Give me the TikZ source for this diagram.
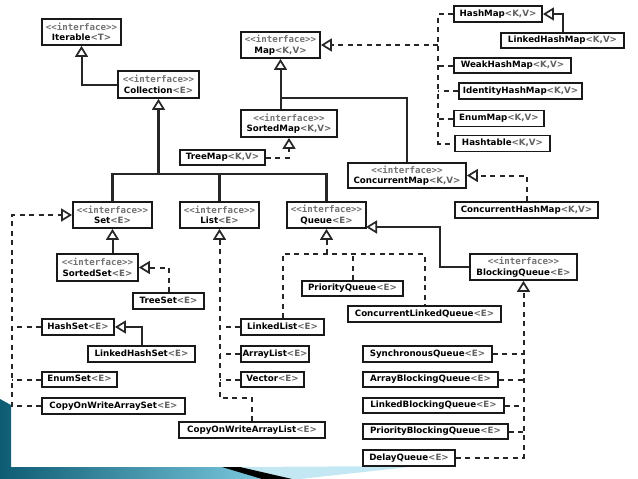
\documentclass[tikz,border=0pt]{standalone}
\usepackage{fontspec}
\setmainfont{DejaVu Sans}
\newfontfamily\monof{DejaVu Sans Mono}
\usetikzlibrary{arrows.meta}
\definecolor{tealdark}{HTML}{0D5C73}
\definecolor{teallight}{HTML}{86D4EA}
\definecolor{paleblue}{HTML}{C4E8F3}
\newcommand{\ifc}{{\monof\fontsize{9.1}{10.5}\selectfont\color{black!55}<\kern0pt<interface>\kern0pt>}}
\newcommand{\gen}[1]{{\color{black!62}#1}}
\newcommand{\nm}[1]{#1}
\begin{document}
\begin{tikzpicture}[x=1pt,y=-1pt,
  font=\fontsize{8.7}{10.5}\selectfont\bfseries,
  box/.style={draw=black!90, line width=1.8pt, fill=white, inner sep=0pt, align=center},
  sbox/.style={box, text height=6.5pt, text depth=1.8pt},
  ln/.style={line width=2pt, draw=black!85},
  dl/.style={ln, dash pattern=on 5pt off 4.5pt},
  tri/.style={-{Triangle[length=11pt,width=13pt,fill=white,line width=1.7pt]}}
]
\useasboundingbox (0,0) rectangle (638,479);
\fill[white] (0,0) rectangle (638,479);
% slide decoration
\shade[left color=tealdark, right color=teallight] (0,399) -- (11,405) -- (11,467) -- (236,467) -- (292,479) -- (0,479) -- cycle;
\fill[paleblue] (238,467) -- (418,466) -- (300,479) -- (292,479) -- cycle;
\fill[black] (222,467) -- (240,467) -- (292,479) -- (262,479) -- cycle;

% interfaces
\node[box, minimum width=79pt, minimum height=26pt] (Iterable) at (81.5,32) {\ifc\\\nm{Iterable}\gen{<T>}};
\node[box, minimum width=81pt, minimum height=27pt] (Collection) at (158.5,84.5) {\ifc\\\nm{Collection}\gen{<E>}};
\node[box, minimum width=79pt, minimum height=26pt] (Map) at (280.5,45) {\ifc\\\nm{Map}\gen{<K,V>}};
\node[box, minimum width=96pt, minimum height=27pt] (SortedMap) at (289,123.5) {\ifc\\\nm{SortedMap}\gen{<K,V>}};
\node[box, minimum width=118pt, minimum height=25pt] (ConcurrentMap) at (407,175.5) {\ifc\\\nm{ConcurrentMap}\gen{<K,V>}};
\node[box, minimum width=79pt, minimum height=26pt] (Set) at (112.5,215) {\ifc\\\nm{Set}\gen{<E>}};
\node[box, minimum width=79pt, minimum height=26pt] (List) at (219.5,215) {\ifc\\\nm{List}\gen{<E>}};
\node[box, minimum width=79pt, minimum height=26pt] (Queue) at (326.5,215) {\ifc\\\nm{Queue}\gen{<E>}};
\node[box, minimum width=81pt, minimum height=27pt] (SortedSet) at (97.5,267.5) {\ifc\\\nm{SortedSet}\gen{<E>}};
\node[box, minimum width=107pt, minimum height=26pt] (BlockingQueue) at (523.5,267) {\ifc\\\nm{BlockingQueue}\gen{<E>}};

% classes
\node[sbox, minimum width=85pt, minimum height=15pt] (TreeMap) at (222.5,157.5) {\nm{TreeMap}\gen{<K,V>}};
\node[sbox, minimum width=88pt, minimum height=16pt] (HashMap) at (498,14) {\nm{HashMap}\gen{<K,V>}};
\node[sbox, minimum width=123pt, minimum height=15pt] (LinkedHashMap) at (562.5,40.5) {\nm{LinkedHashMap}\gen{<K,V>}};
\node[sbox, minimum width=117pt, minimum height=15pt] (WeakHashMap) at (512.5,65.5) {\nm{WeakHashMap}\gen{<K,V>}};
\node[sbox, minimum width=123pt, minimum height=16pt] (IdentityHashMap) at (520.5,91) {\nm{IdentityHashMap}\gen{<K,V>}};
\node[sbox, minimum width=90pt, minimum height=16pt] (EnumMap) at (499,118.5) {\nm{EnumMap}\gen{<K,V>}};
\node[sbox, minimum width=95pt, minimum height=16pt] (Hashtable) at (502.5,143.5) {\nm{Hashtable}\gen{<K,V>}};
\node[sbox, minimum width=143pt, minimum height=16pt] (ConcurrentHashMap) at (526.5,210) {\nm{ConcurrentHashMap}\gen{<K,V>}};
\node[sbox, minimum width=71pt, minimum height=16pt] (TreeSet) at (168.5,301) {\nm{TreeSet}\gen{<E>}};
\node[sbox, minimum width=101pt, minimum height=15pt] (PriorityQueue) at (352.5,288.5) {\nm{PriorityQueue}\gen{<E>}};
\node[sbox, minimum width=153pt, minimum height=16pt] (CLQ) at (424.5,314) {\nm{ConcurrentLinkedQueue}\gen{<E>}};
\node[sbox, minimum width=72pt, minimum height=16pt] (HashSet) at (78,327) {\nm{HashSet}\gen{<E>}};
\node[sbox, minimum width=107pt, minimum height=16pt] (LinkedHashSet) at (141.5,354) {\nm{LinkedHashSet}\gen{<E>}};
\node[sbox, minimum width=75pt, minimum height=15pt] (EnumSet) at (79.5,379.5) {\nm{EnumSet}\gen{<E>}};
\node[sbox, minimum width=143pt, minimum height=16pt] (COWASet) at (113.5,406) {\nm{CopyOnWriteArraySet}\gen{<E>}};
\node[sbox, minimum width=83pt, minimum height=16pt] (LinkedList) at (282.5,327) {\nm{LinkedList}\gen{<E>}};
\node[sbox, minimum width=68pt, minimum height=16pt] (ArrayList) at (275,354) {\nm{ArrayList}\gen{<E>}};
\node[sbox, minimum width=63pt, minimum height=15pt] (Vector) at (272.5,379.5) {\nm{Vector}\gen{<E>}};
\node[sbox, minimum width=146pt, minimum height=16pt] (COWAList) at (252,430) {\nm{CopyOnWriteArrayList}\gen{<E>}};
\node[sbox, minimum width=129pt, minimum height=16pt] (SynchronousQueue) at (427.5,354) {\nm{SynchronousQueue}\gen{<E>}};
\node[sbox, minimum width=135pt, minimum height=15pt] (ABQ) at (430.5,379.5) {\nm{ArrayBlockingQueue}\gen{<E>}};
\node[sbox, minimum width=141pt, minimum height=15pt] (LBQ) at (433.5,405.5) {\nm{LinkedBlockingQueue}\gen{<E>}};
\node[sbox, minimum width=145pt, minimum height=15pt] (PBQ) at (435.5,431.5) {\nm{PriorityBlockingQueue}\gen{<E>}};
\node[sbox, minimum width=92pt, minimum height=16pt] (DelayQueue) at (409,458) {\nm{DelayQueue}\gen{<E>}};

% junction coordinates
\coordinate (jc) at (158.5,174);
\coordinate (mapj) at (280.5,98);
\coordinate (mapbus) at (438,45);
\coordinate (qbus) at (326.5,254);
\coordinate (qe) at (366,227);
\coordinate (bqturn) at (440,267);
\coordinate (setbus) at (12,215);
\coordinate (lcorner) at (219.5,398);

% Collection hierarchy
\draw[ln,tri] (Collection.west) -| (Iterable.south);
\draw[ln, line width=2.3pt] (Set.north) |- (jc) -| (Queue.north);
\draw[ln, line width=2.3pt] (List.north) -- (List.north |- jc);
\draw[ln, line width=2.6pt, tri] (jc) -- (Collection.south);

% Map hierarchy
\draw[ln,tri] (Map.south |- SortedMap.north) -- (Map.south);
\draw[ln] (ConcurrentMap.north) |- (mapj);
\draw[dl,tri] (TreeMap.east) -| (SortedMap.south);
\draw[dl,tri] (mapbus) -- (Map.east);
\draw[dl] (HashMap.west) -- (HashMap.west -| mapbus) -- (Hashtable.west -| mapbus) -- (Hashtable.west);
\draw[dl] (WeakHashMap.west) -- (WeakHashMap.west -| mapbus);
\draw[dl] (IdentityHashMap.west) -- (IdentityHashMap.west -| mapbus);
\draw[dl] (EnumMap.west) -- (EnumMap.west -| mapbus);
\draw[ln,tri] (LinkedHashMap.north) |- (HashMap.east);
\draw[dl,tri] (ConcurrentHashMap.north) |- (ConcurrentMap.east);

% Queue hierarchy
\draw[ln,tri] (BlockingQueue.west) -- (bqturn) |- (qe);
\draw[dl,tri] (qbus) -- (Queue.south);
\draw[dl] (LinkedList.north) |- (qbus) -| (CLQ.north);
\draw[dl] (PriorityQueue.north) -- (PriorityQueue.north |- qbus);
\draw[dl,tri] (DelayQueue.east) -| (BlockingQueue.south);
\draw[dl] (SynchronousQueue.east) -- (SynchronousQueue.east -| BlockingQueue.south);
\draw[dl] (ABQ.east) -- (ABQ.east -| BlockingQueue.south);
\draw[dl] (LBQ.east) -- (LBQ.east -| BlockingQueue.south);
\draw[dl] (PBQ.east) -- (PBQ.east -| BlockingQueue.south);

% Set hierarchy
\draw[ln,tri] (Set.south |- SortedSet.north) -- (Set.south);
\draw[dl,tri] (TreeSet.north) |- (SortedSet.east);
\draw[dl,tri] (COWASet.west) -| (setbus) -- (Set.west);
\draw[dl] (HashSet.west) -- (HashSet.west -| setbus);
\draw[dl] (EnumSet.west) -- (EnumSet.west -| setbus);
\draw[ln,tri] (LinkedHashSet.north) |- (HashSet.east);

% List hierarchy
\draw[dl,tri] (COWAList.north) |- (lcorner) -- (List.south);
\draw[dl] (LinkedList.west) -- (LinkedList.west -| lcorner);
\draw[dl] (ArrayList.west) -- (ArrayList.west -| lcorner);
\draw[dl] (Vector.west) -- (Vector.west -| lcorner);
\end{tikzpicture}
\end{document}
